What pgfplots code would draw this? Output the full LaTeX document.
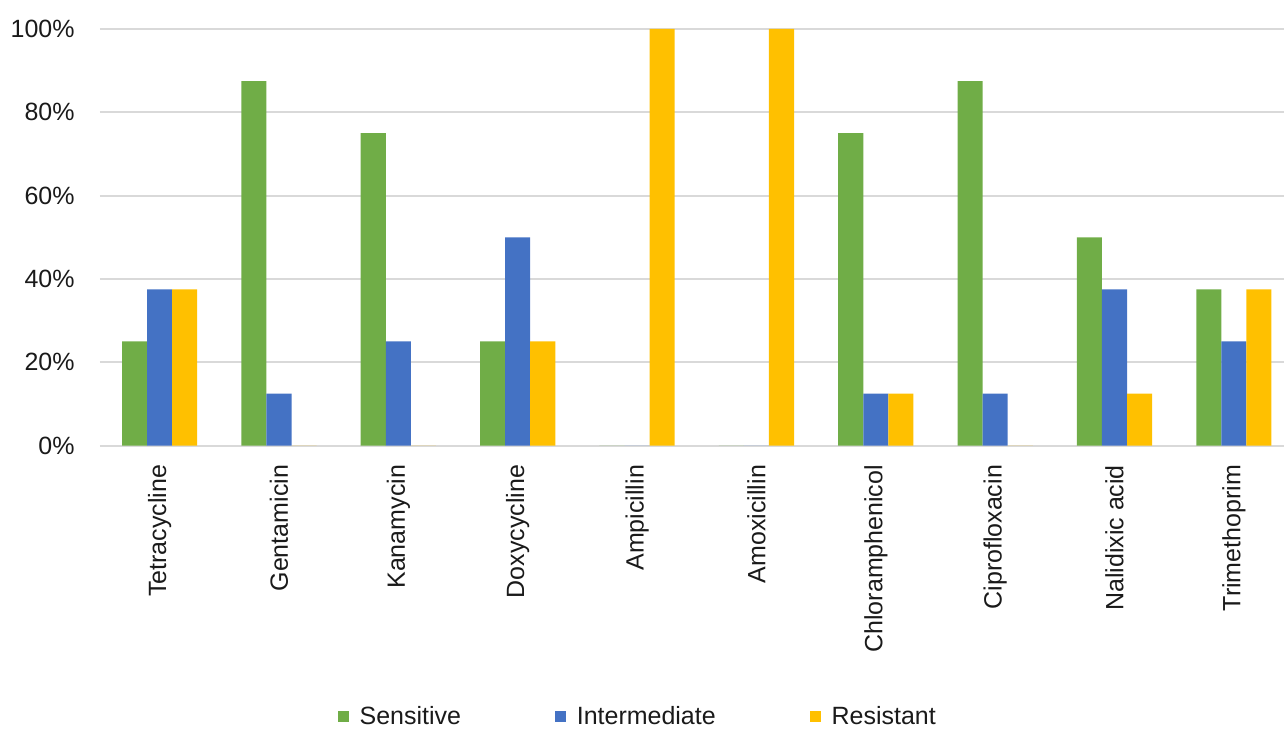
\documentclass[border=0pt]{standalone}
\usepackage{pgfplots}
\pgfplotsset{compat=1.18}
\usepackage{fontspec}
\setmainfont{Liberation Sans}

\definecolor{sens}{HTML}{70AD47}
\definecolor{inter}{HTML}{4472C4}
\definecolor{resi}{HTML}{FFC000}
\definecolor{gridc}{HTML}{D9D9D9}
\definecolor{txt}{HTML}{1A1A1A}

\begin{document}
\begin{tikzpicture}
\begin{axis}[
  name=main,
  scale only axis,
  width=592.5pt, height=208.5pt,
  xmin=-0.5, xmax=9.42,
  ymin=0, ymax=100,
  ybar, bar width=0.21,
  axis line style={draw=none},
  major tick length=0pt,
  ymajorgrids, grid style={draw=gridc, line width=1pt},
  ytick={0,20,...,100},
  yticklabel={\pgfmathprintnumber{\tick}\%},
  yticklabel style={anchor=east, inner sep=0pt},
  yticklabel shift=12.5pt,
  xtick={0,...,9},
  xticklabels={Tetracycline,Gentamicin,Kanamycin,Doxycycline,Ampicillin,Amoxicillin,Chloramphenicol,Ciprofloxacin,Nalidixic acid,Trimethoprim},
  xticklabel style={rotate=90, anchor=east, inner sep=0pt},
  xticklabel shift=9.5pt,
  tick label style={font=\fontsize{12.5}{15}\selectfont, text=txt},
  /pgf/number format/assume math mode=true,
  legend style={at={(0.455,-0.65)}, anchor=center, draw=none,
    font=\fontsize{12.5}{15}\selectfont, text=txt,
    /tikz/every even column/.append style={column sep=45pt}},
  legend columns=3,
  legend image code/.code={\fill[#1] (0pt,-2.75pt) rectangle (5.5pt,2.75pt); \path (9pt,0pt);},
]
% share of isolates per antibiotic (n = 8)
\addplot[fill=sens, draw=none, bar shift=-0.21] coordinates {
  (0,25) (1,87.5) (2,75) (3,25) (4,0) (5,0) (6,75) (7,87.5) (8,50) (9,37.5)};
\addplot[fill=inter, draw=none, bar shift=0] coordinates {
  (0,37.5) (1,12.5) (2,25) (3,50) (4,0) (5,0) (6,12.5) (7,12.5) (8,37.5) (9,25)};
\addplot[fill=resi, draw=none, bar shift=0.21] coordinates {
  (0,37.5) (1,0) (2,0) (3,25) (4,100) (5,100) (6,12.5) (7,0) (8,12.5) (9,37.5)};
\legend{Sensitive,Intermediate,Resistant}
\end{axis}
\useasboundingbox ([xshift=-50pt,yshift=-143pt]main.south west) rectangle ([yshift=14.5pt]main.north east);
\end{tikzpicture}
\end{document}
